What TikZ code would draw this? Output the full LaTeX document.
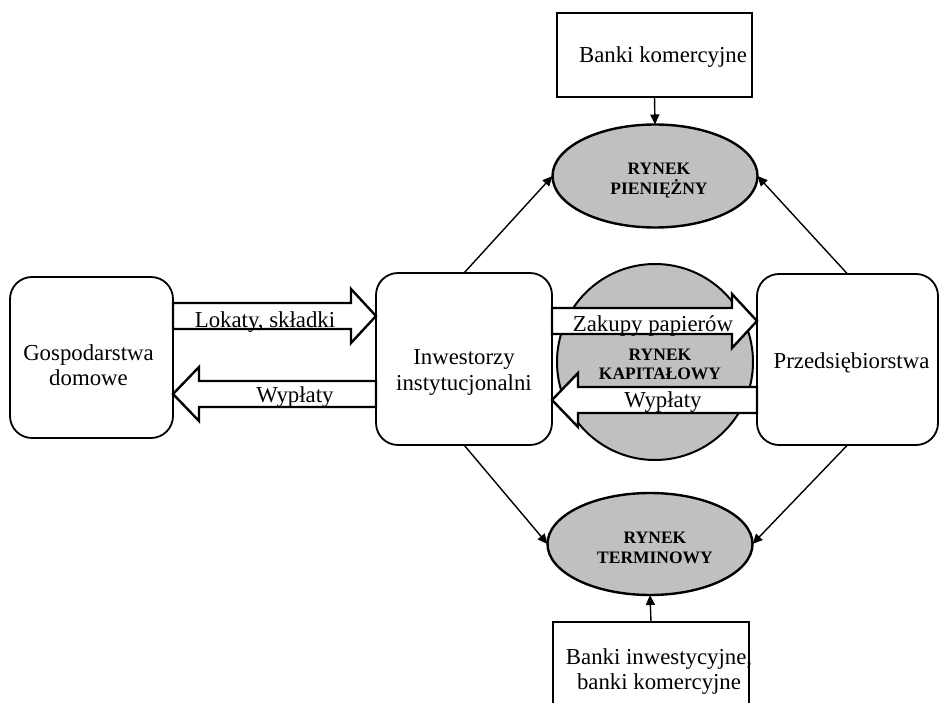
\documentclass[tikz,border=0pt]{standalone}
\usepackage{fontspec}
\setmainfont{Liberation Serif}
\usetikzlibrary{arrows.meta,shapes.geometric,calc}
\definecolor{mktgray}{HTML}{C0C0C0}
\newcommand\blkR[3]{\draw[blk] let \p1=(#1.east),\p2=(#2.west) in
 (\x1,{-#3pt+13pt}) -- ({\x2-25pt},{-#3pt+13pt}) -- ({\x2-25pt},{-#3pt+27pt}) -- (\x2,{-#3pt}) -- ({\x2-25pt},{-#3pt-27pt}) -- ({\x2-25pt},{-#3pt-13pt}) -- (\x1,{-#3pt-13pt}) -- cycle;}
\newcommand\blkL[3]{\draw[blk] let \p1=(#1.west),\p2=(#2.east) in
 (\x1,{-#3pt+13pt}) -- ({\x2+26pt},{-#3pt+13pt}) -- ({\x2+26pt},{-#3pt+27pt}) -- (\x2,{-#3pt}) -- ({\x2+26pt},{-#3pt-27pt}) -- ({\x2+26pt},{-#3pt-13pt}) -- (\x1,{-#3pt-13pt}) -- cycle;}
\begin{document}
\begin{tikzpicture}[x=1pt,y=-1pt,
  rbox/.style={draw,line width=1.8pt,rounded corners=22pt,fill=white,inner sep=0pt,outer sep=0pt},
  sbox/.style={draw,line width=2.4pt,fill=white,inner sep=0pt,outer sep=0pt},
  mkt/.style={ellipse,draw,line width=2.4pt,fill=mktgray,inner sep=0pt,outer sep=0pt},
  txt/.style={font=\fontsize{22.8}{25}\selectfont,inner sep=0pt,anchor=base,align=center},
  btxt/.style={font=\fontsize{17.5}{20}\selectfont\bfseries,inner sep=0pt,anchor=base,align=center},
  blk/.style={draw,line width=2.4pt,fill=white,line join=miter},
  con/.style={line width=1.4pt,-{Triangle[length=10pt,width=9pt]}}
]
\useasboundingbox (0,0) rectangle (940,703);
% capital market circle (background)
\node[circle,draw,line width=2pt,fill=mktgray,minimum size=196pt,inner sep=0pt,outer sep=0pt] (kap) at (655,362) {};
% main boxes
\node[rbox,minimum width=163pt,minimum height=161pt] (gd) at (91.5,357.5) {};
\node[rbox,minimum width=176pt,minimum height=172pt] (ii) at (464,359) {};
\node[rbox,minimum width=181pt,minimum height=171pt] (pr) at (847.5,359.5) {};
\node[sbox,minimum width=195pt,minimum height=84pt] (bk) at (654.5,55) {};
\node[sbox,minimum width=196pt,minimum height=90pt] (bi) at (651,667) {};
% markets
\node[mkt,minimum width=205pt,minimum height=103pt] (pn) at (655,176) {};
\node[mkt,minimum width=205pt,minimum height=102pt] (tr) at (650,544) {};
% thin connectors
\draw[con] (bk.south) -- (pn.north);
\draw[con] (bi.north) -- (tr.south);
\draw[con] (ii.north) -- (pn.west);
\draw[con] (pr.north) -- (pn.east);
\draw[con] (ii.south) -- (tr.west);
\draw[con] (pr.south) -- (tr.east);
% block arrows
\blkR{gd}{ii}{316}
\blkL{ii}{gd}{394}
\blkR{ii}{pr}{321}
\blkL{pr}{ii}{400}
% texts (anchor = baseline of the last line)
\node[txt] (gd-t) at (88.5,385) {Gospodarstwa\\domowe};
\node[txt] (ii-t) at (464,390) {Inwestorzy\\instytucjonalni};
\node[txt] (pr-t) at (851.5,368) {Przedsiębiorstwa};
\node[txt] (bk-t) at (663,63) {Banki komercyjne};
\node[txt] (bi-t) at (659,689) {Banki inwestycyjne,\\banki komercyjne};
\node[txt] (lok-t) at (265,327) {Lokaty, składki};
\node[txt] (wy1-t) at (295,402) {Wypłaty};
\node[txt] (zak-t) at (653,332) {Zakupy papierów};
\node[txt] (wy2-t) at (663,407) {Wypłaty};
\node[btxt] (pn-t) at (659,195) {RYNEK\\PIENIĘŻNY};
\node[btxt] (kap-t) at (660,380) {RYNEK\\KAPITAŁOWY};
\node[btxt] (tr-t) at (655,563) {RYNEK\\TERMINOWY};
\end{tikzpicture}
\end{document}
